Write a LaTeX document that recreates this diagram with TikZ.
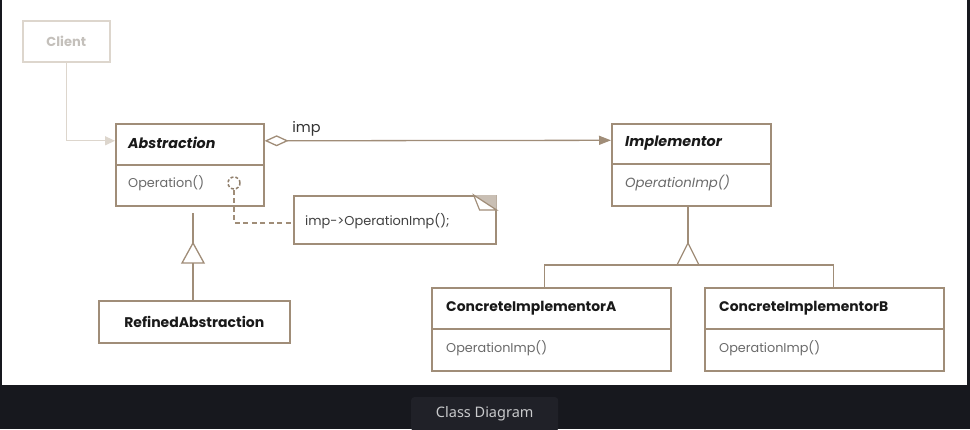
\documentclass[tikz,border=0pt]{standalone}
\usepackage{fontspec}
\setmainfont{Poppins}
\newfontfamily\capfont{Noto Sans}
\usetikzlibrary{arrows.meta,calc}
\definecolor{brd}{HTML}{A08D78}
\definecolor{clientc}{HTML}{DDD6CD}
\definecolor{clienttxt}{HTML}{C4C0BB}
\definecolor{darkbg}{HTML}{17181E}
\definecolor{capbox}{HTML}{202128}
\definecolor{captxt}{HTML}{C9CACC}
\definecolor{bodytxt}{HTML}{6A6A6A}
\definecolor{notegrey}{HTML}{C9BFB4}
\tikzset{
  part/.style={draw=brd, line width=1.6pt, fill=white, anchor=north west, inner sep=0pt},
  ttl/.style={anchor=west, inner sep=0pt, font=\fontsize{13.9}{15}\selectfont\bfseries, text=black!90},
  ittl/.style={anchor=west, inner sep=0pt, font=\fontsize{14.3}{16}\selectfont\bfseries\itshape, text=black!90},
  bdy/.style={anchor=west, inner sep=0pt, font=\fontsize{12.8}{14}\selectfont, text=bodytxt},
  conn/.style={draw=brd, line width=1.3pt},
}
\begin{document}
\begin{tikzpicture}[x=1pt,y=-1pt]
\fill[darkbg] (0,0) rectangle (970,429);
\fill[white] (2,0) rectangle (967,385);
\useasboundingbox (0,0) rectangle (970,429);

% Client
\node[draw=clientc, line width=1.6pt, anchor=north west, minimum width=87pt, minimum height=41pt, inner sep=0pt,
  font=\fontsize{13}{14}\selectfont\bfseries, text=clienttxt] (client) at (22,20) {Client};

% Abstraction
\node[part, minimum width=148pt, minimum height=41pt] (absH) at (115,123) {};
\node[part, minimum width=148pt, minimum height=41pt] (absB) at (115,164) {};
\node[ittl] (absT) at (128,143) {Abstraction};
\node[bdy] (absO) at (128,183.5) {Operation()};
\node[circle, draw=brd!90!black, dashed, dash pattern=on 3pt off 2pt, line width=1.5pt, minimum size=12pt, inner sep=0pt] (hook) at (234,183) {};

% Note
\node[draw=brd, line width=1.6pt, anchor=north west, minimum width=202pt, minimum height=48pt, inner sep=0pt] (note) at (293,195) {};
\fill[notegrey] (note.north east) -- ([xshift=-23pt]note.north east) -- ([yshift=-15pt]note.north east) -- cycle;
\draw[brd, line width=1.2pt, fill=white] ([xshift=-23pt]note.north east) -- ([xshift=-17pt,yshift=-15pt]note.north east) -- ([yshift=-15pt]note.north east) -- cycle;
\node[bdy, text=black!75, font=\fontsize{12.9}{14}\selectfont] (noteT) at (305,221) {imp->OperationImp();};
\coordinate (bend) at (234,223);
\draw[conn, dashed, dash pattern=on 5pt off 3.5pt] (hook.south) -- (bend) -- (note.west |- bend);

% Implementor
\node[part, minimum width=159pt, minimum height=40pt] (implH) at (611,123) {};
\node[part, minimum width=159pt, minimum height=42pt] (implB) at (611,163) {};
\node[ittl] (implT) at (625,143) {Implementor};
\node[bdy, font=\fontsize{13.3}{15}\selectfont\itshape] (implO) at (625,183.5) {OperationImp()};

% Refined Abstraction
\node[part, minimum width=191pt, minimum height=42pt] (ref) at (98,300) {};
\node[ttl, anchor=center, font=\fontsize{14}{16}\selectfont\bfseries] (refT) at (ref.center) {RefinedAbstraction};

% Concrete A
\node[part, minimum width=239pt, minimum height=41pt] (caH) at (431,287) {};
\node[part, minimum width=239pt, minimum height=42pt] (caB) at (431,328) {};
\node[ttl] (caT) at (446,308) {ConcreteImplementorA};
\node[bdy] (caO) at (446,348.5) {OperationImp()};

% Concrete B
\node[part, minimum width=239pt, minimum height=41pt] (cbH) at (704,287) {};
\node[part, minimum width=239pt, minimum height=42pt] (cbB) at (704,328) {};
\node[ttl] (cbT) at (719,308) {ConcreteImplementorB};
\node[bdy] (cbO) at (719,348.5) {OperationImp()};

% Client -> Abstraction
\draw[draw=clientc, line width=1.3pt, -{Triangle[length=10pt,width=9pt]}] (client.south) |- ([yshift=3.5pt]absH.west);

% Aggregation
\draw[conn, {Diamond[open,length=24pt,width=11pt]}-{Triangle[length=12pt,width=9pt]}] ([yshift=3.5pt]absH.east) -- ([yshift=3.5pt]implH.west)
  node[pos=0, anchor=south west, inner sep=0pt, yshift=4pt, xshift=27pt, font=\fontsize{14.5}{16}\selectfont, text=black!80] (impL) {imp};

% Generalization Refined -> Abstraction
\coordinate (g1top) at (193,213);
\coordinate (g1apex) at (193,243);
\draw[conn] (g1top) -- (g1apex);
\draw[conn] (g1apex) -- ++(-11,20) -- ++(22,0) -- cycle;
\draw[conn] (ref.north -| g1apex) -- ++(0,-37);

% Generalization Concrete -> Implementor
\coordinate (g2apex) at (688,243);
\coordinate (g2base) at (688,265);
\draw[conn] (implB.south -| g2apex) -- (g2apex);
\draw[conn] (g2apex) -- ++(-11,22) -- ++(22,0) -- cycle;
\draw[conn] ([xshift=-6.5pt]caH.north) |- (g2base) -| ([xshift=9.5pt]cbH.north);

% Caption
\node[fill=capbox, rounded corners=3pt, anchor=north west, minimum width=147pt, minimum height=34pt, inner sep=0pt,
  font=\capfont\fontsize{14.5}{16}\selectfont, text=captxt] (cap) at (411,397) {Class Diagram};
\end{tikzpicture}
\end{document}
